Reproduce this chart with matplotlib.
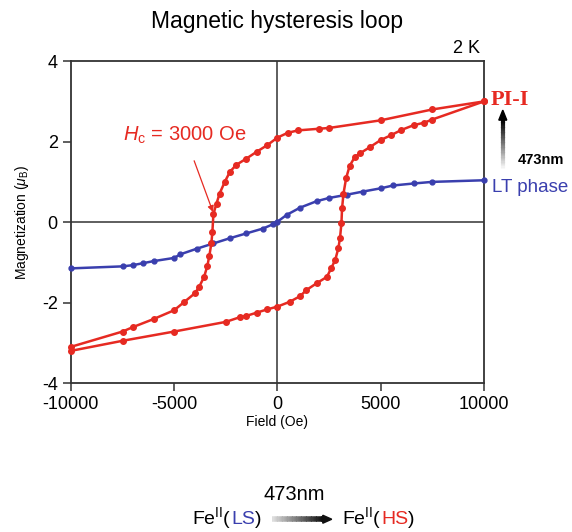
import numpy as np
import matplotlib
matplotlib.use("Agg")
import matplotlib.pyplot as plt
from matplotlib.patches import Polygon

plt.rcParams['font.family'] = ['Liberation Sans', 'DejaVu Sans']
plt.rcParams['mathtext.fontset'] = 'custom'
plt.rcParams['mathtext.rm'] = 'Liberation Sans'
plt.rcParams['mathtext.it'] = 'Liberation Sans:italic'
plt.rcParams['axes.unicode_minus'] = False

RED = '#e62a22'
BLUE = '#3a3fae'

# PI-I loop, field sweep 10000 -> -10000 Oe (upper branch)
h_down = [10000, 7500, 5000, 2500, 2000, 1000, 500, 0, -500, -1000, -1500, -2000,
          -2300, -2550, -2800, -2950, -3100, -3150, -3200, -3300, -3400, -3550,
          -3800, -4000, -4500, -5000, -6000, -7000, -7500, -10000]
m_down = [3.00, 2.80, 2.53, 2.34, 2.32, 2.28, 2.22, 2.10, 1.91, 1.75, 1.58, 1.42,
          1.25, 1.00, 0.71, 0.46, 0.20, -0.25, -0.53, -0.85, -1.10, -1.36,
          -1.62, -1.77, -1.98, -2.19, -2.41, -2.61, -2.72, -3.10]

# PI-I loop, field sweep -10000 -> 10000 Oe (lower branch)
h_up = [-10000, -7500, -5000, -2500, -1800, -1500, -1000, -500, 0, 600, 1100,
        1400, 1900, 2400, 2600, 2800, 2950, 3030, 3100, 3130, 3200, 3330, 3500,
        3750, 4000, 4500, 5000, 5500, 6000, 6600, 7100, 7500, 10000]
m_up = [-3.20, -2.95, -2.72, -2.48, -2.36, -2.33, -2.25, -2.17, -2.10, -1.98, -1.84,
        -1.69, -1.52, -1.36, -1.15, -0.94, -0.65, -0.40, -0.03, 0.34, 0.71, 1.10, 1.40,
        1.62, 1.71, 1.87, 2.04, 2.16, 2.29, 2.41, 2.47, 2.55, 3.00]

# LT phase
h_lt = [-10000, -7500, -7000, -6500, -6000, -5000, -4700, -3900, -3100, -2300,
        -1500, -700, -200, 0, 450, 1100, 1900, 2500, 3350, 4150, 5000, 5600,
        6600, 7500, 10000]
m_lt = [-1.15, -1.10, -1.07, -1.02, -0.97, -0.89, -0.80, -0.66, -0.53, -0.40,
        -0.28, -0.16, -0.05, 0.01, 0.18, 0.36, 0.52, 0.60, 0.68, 0.76, 0.84, 0.91,
        0.96, 1.00, 1.04]

fig = plt.figure(figsize=(5.72, 5.32), dpi=100)
ax = fig.add_axes([0.124, 0.280, 0.722, 0.605])

ax.axhline(0, color='#333333', lw=1.1, zorder=1)
ax.axvline(0, color='#333333', lw=1.1, zorder=1)

ax.plot(h_lt, m_lt, '-o', color=BLUE, lw=1.8, ms=3.5, zorder=3, clip_on=False)
ax.plot(h_down, m_down, '-o', color=RED, lw=1.8, ms=4, zorder=4, clip_on=False)
ax.plot(h_up, m_up, '-o', color=RED, lw=1.8, ms=4, zorder=4, clip_on=False)

ax.set_xlim(-10000, 10000)
ax.set_ylim(-4, 4)
ax.set_xticks([-10000, -5000, 0, 5000, 10000])
ax.set_yticks([-4, -2, 0, 2, 4])
ax.tick_params(direction='out', length=6, width=1.1, labelsize=13, color='#333333')
for sp in ax.spines.values():
    sp.set_color('#333333')
    sp.set_linewidth(1.3)

ax.set_xlabel('Field (Oe)', fontsize=10, labelpad=1)
ax.set_ylabel(r'Magnetization ($\mu_\mathrm{B}$)', fontsize=10, labelpad=8)
ax.set_title('Magnetic hysteresis loop', fontsize=16.5, pad=24)
ax.text(0.99, 1.012, '2 K', transform=ax.transAxes, ha='right', va='bottom', fontsize=13)

ax.annotate(r'$H_\mathrm{c}$ = 3000 Oe', xy=(-3120, 0.25), xytext=(-4480, 2.15),
            ha='center', va='center', fontsize=14.5, color=RED,
            arrowprops=dict(arrowstyle='-|>', color=RED, lw=0.9,
                            shrinkA=9, shrinkB=0, mutation_scale=9))

# labels at the right edge
fig.text(0.857, 0.812, 'PI-I', color=RED, fontsize=16, fontweight='bold',
         family='Liberation Serif', ha='left', va='center')
fig.text(0.860, 0.648, 'LT phase', color=BLUE, fontsize=13.5, ha='left', va='center')
fig.text(0.906, 0.699, '473nm', color='black', fontsize=10.5, fontweight='bold',
         ha='left', va='center')


def grad_arrow(x0, y0, x1, y1, width, head_w, head_l, c0, c1, n=40):
    # shaft made of short segments shading from c0 to c1, then a solid head
    p0 = fig.transFigure.transform((x0, y0))
    p1 = fig.transFigure.transform((x1, y1))
    d = p1 - p0
    length = np.hypot(*d)
    u = d / length
    shaft_end = p1 - u * head_l
    c0 = np.array(matplotlib.colors.to_rgb(c0))
    c1 = np.array(matplotlib.colors.to_rgb(c1))
    inv = fig.transFigure.inverted()
    for i in range(n):
        a = p0 + (shaft_end - p0) * i / n
        b = p0 + (shaft_end - p0) * (i + 1.2) / n
        col = c0 + (c1 - c0) * (i / (n - 1))
        fa, fb = inv.transform(a), inv.transform(b)
        fig.add_artist(plt.Line2D([fa[0], fb[0]], [fa[1], fb[1]], lw=width,
                                  color=col, solid_capstyle='butt',
                                  transform=fig.transFigure))
    nrm = np.array([-u[1], u[0]])
    pts = [p1, shaft_end + nrm * head_w / 2, shaft_end - nrm * head_w / 2]
    pts = inv.transform(np.array(pts))
    fig.add_artist(Polygon(pts, closed=True, color=c1, transform=fig.transFigure))


grad_arrow(0.879, 0.680, 0.879, 0.793, 3.0, 8, 10, '#ffffff', '#000000')

# bottom scheme: pieces of coloured text laid side by side on one baseline
renderer = fig.canvas.get_renderer()


def colored_line(x, y, pieces, size):
    for txt, col in pieces:
        t = fig.text(x, y, txt, color=col, fontsize=size, ha='left', va='baseline')
        w = t.get_window_extent(renderer=renderer).width
        x += w / fig.bbox.width


fig.text(0.514, 0.070, '473nm', fontsize=14.5, ha='center', va='center')
colored_line(0.336, 0.015, [(r'Fe$^{\mathrm{II}}$(', 'black'), ('LS', BLUE), (')', 'black')], 14)
colored_line(0.598, 0.015, [(r'Fe$^{\mathrm{II}}$(', 'black'), ('HS', RED), (')', 'black')], 14)
grad_arrow(0.476, 0.024, 0.580, 0.024, 4.0, 8, 9, '#dddddd', '#111111')

fig.savefig('out.png', dpi=100)
